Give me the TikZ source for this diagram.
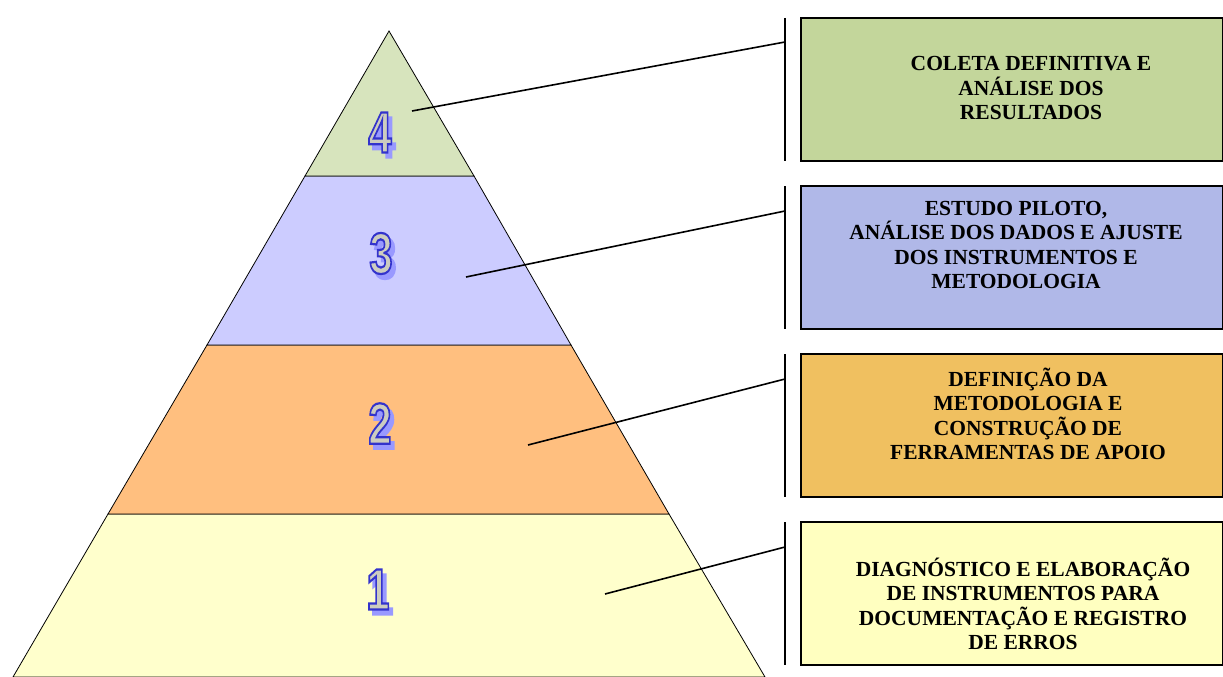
\documentclass[tikz,border=0pt]{standalone}
\usepackage{fontspec}
\usepackage{graphicx}
\setmainfont{Liberation Serif}
\newfontfamily\digitfont{Liberation Sans}
\definecolor{lvfour}{HTML}{D7E4BD}
\definecolor{lvthree}{HTML}{CCCCFF}
\definecolor{lvtwo}{HTML}{FFBF7F}
\definecolor{lvone}{HTML}{FFFFCC}
\definecolor{bxfour}{HTML}{C3D69B}
\definecolor{bxthree}{HTML}{B0B8E8}
\definecolor{bxtwo}{HTML}{F0C060}
\definecolor{bxone}{HTML}{FFFFC0}
\definecolor{digblue}{HTML}{3333CC}
\definecolor{digshadow}{HTML}{9999FF}
\definecolor{digfill}{HTML}{CCCCC0}
\newcommand{\pdigit}[1]{\scalebox{0.72}[1]{\digitfont\bfseries\fontsize{58}{58}\selectfont\color{digfill}\special{pdf:literal direct 2 Tr 2.2 w 0.2 0.2 0.8 RG}#1\special{pdf:literal direct 0 Tr}}}
\newcommand{\sdigit}[1]{\scalebox{0.72}[1]{\digitfont\bfseries\fontsize{58}{58}\selectfont\color{digshadow}\special{pdf:literal direct 2 Tr 2.2 w 0.6 0.6 1 RG}#1\special{pdf:literal direct 0 Tr}}}
\newcommand{\shadowdigit}[1]{\rlap{\hspace{4pt}\raisebox{-5pt}{\sdigit{#1}}}\pdigit{#1}}
\tikzset{
  level/.style={draw=black, line width=0.8pt},
  box/.style={draw=black, line width=2pt},
  bar/.style={draw=black, line width=2pt},
  conn/.style={draw=black, line width=1.6pt},
  boxtext/.style={align=center, font=\fontsize{21.5}{24.5}\selectfont\bfseries, inner sep=0pt},
  dig/.style={inner sep=0pt},
}
\begin{document}
\begin{tikzpicture}[x=1pt,y=-1pt]
\useasboundingbox (0,0) rectangle (1223,677);
% pyramid levels
\path[level, fill=lvone] (108,514) -- (669,514) -- (765,677) -- (13,677) -- cycle;
\path[level, fill=lvtwo] (207,345) -- (571,345) -- (669,514) -- (108,514) -- cycle;
\path[level, fill=lvthree] (305,176) -- (474,176) -- (571,345) -- (207,345) -- cycle;
\path[level, fill=lvfour] (389,31) -- (474,176) -- (305,176) -- cycle;
% digits
\foreach \d/\x/\y in {4/380/135, 3/381/256, 2/380/426, 1/378/592} {
  \node[dig, anchor=center] (d\d) at (\x,\y) {\shadowdigit{\d}};
}
% boxes
\path[box, fill=bxfour] (801,18) rectangle (1223,161);
\path[box, fill=bxthree] (801,186) rectangle (1223,329);
\path[box, fill=bxtwo] (801,354) rectangle (1223,497);
\path[box, fill=bxone] (801,522) rectangle (1223,665);
% bars
\coordinate (b4t) at (785,18); \coordinate (b4b) at (785,161);
\coordinate (b3t) at (785,186); \coordinate (b3b) at (785,329);
\coordinate (b2t) at (785,354); \coordinate (b2b) at (785,497);
\coordinate (b1t) at (785,522); \coordinate (b1b) at (785,665);
\draw[bar] (b4t) -- (b4b);
\draw[bar] (b3t) -- (b3b);
\draw[bar] (b2t) -- (b2b);
\draw[bar] (b1t) -- (b1b);
% connectors
\coordinate (p4) at (412,111); \coordinate (q4) at (785,42);
\coordinate (p3) at (466,277); \coordinate (q3) at (785,211);
\coordinate (p2) at (528,445); \coordinate (q2) at (785,379);
\coordinate (p1) at (605,594); \coordinate (q1) at (785,547);
\draw[conn] (p4) -- (q4);
\draw[conn] (p3) -- (q3);
\draw[conn] (p2) -- (q2);
\draw[conn] (p1) -- (q1);
% texts
\node[boxtext] (t4) at (1031,88) {COLETA DEFINITIVA E\\ANÁLISE DOS\\RESULTADOS};
\node[boxtext] (t3) at (1016,245) {ESTUDO PILOTO,\\ANÁLISE DOS DADOS E AJUSTE\\DOS INSTRUMENTOS E\\METODOLOGIA};
\node[boxtext] (t2) at (1028,414) {DEFINIÇÃO DA\\METODOLOGIA E\\CONSTRUÇÃO DE\\FERRAMENTAS DE APOIO};
\node[boxtext] (t1) at (1023,604) {DIAGNÓSTICO E ELABORAÇÃO\\DE INSTRUMENTOS PARA\\DOCUMENTAÇÃO E REGISTRO\\DE ERROS};
\end{tikzpicture}
\end{document}
